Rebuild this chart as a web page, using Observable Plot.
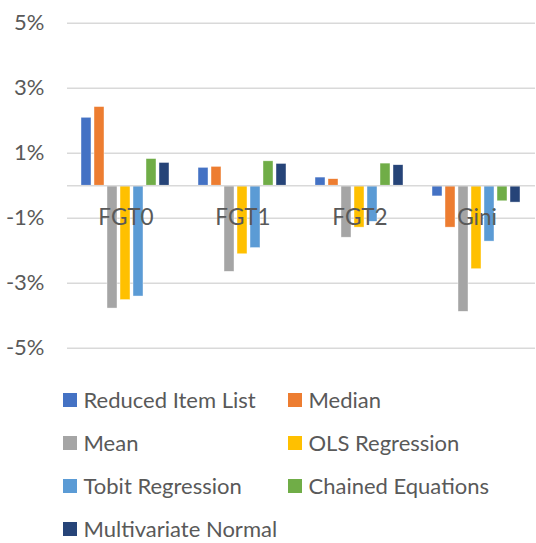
<!DOCTYPE html>
<html>
<head>
<meta charset="utf-8">
<script src="https://cdn.jsdelivr.net/npm/d3@7"></script>
<script src="https://cdn.jsdelivr.net/npm/@observablehq/plot@0.6"></script>
<style>
  html, body { margin: 0; padding: 0; background: #fff; }
  #wrap { position: relative; width: 536px; height: 543px; font-family: Lato, "Noto Sans", sans-serif; color: #595959; }
  #legend { position: absolute; left: 63px; top: 390px; display: grid; grid-template-columns: 225px 225px; grid-auto-rows: 20px; row-gap: 23px; }
  .item { display: flex; align-items: center; font-size: 22px; line-height: 20px; height: 20px; white-space: nowrap; }
  .sw { width: 14px; height: 14px; margin-right: 6.5px; flex: none; }
</style>
</head>
<body>
<div id="wrap"><div id="chart"></div><div id="legend"></div></div>
<script>
const categories = ["FGT0", "FGT1", "FGT2", "Gini"];
const series = ["Reduced Item List", "Median", "Mean", "OLS Regression", "Tobit Regression", "Chained Equations", "Multivariate Normal"];
const colors = ["#4472C4", "#ED7D31", "#A5A5A5", "#FFC000", "#5B9BD5", "#70AD47", "#264478"];
const reducedItemList = [2.09, 0.55, 0.25, -0.33];
const median = [2.42, 0.58, 0.20, -1.29];
const mean = [-3.78, -2.65, -1.60, -3.88];
const olsRegression = [-3.52, -2.11, -1.29, -2.57];
const tobitRegression = [-3.41, -1.92, -1.11, -1.72];
const chainedEquations = [0.82, 0.75, 0.68, -0.48];
const multivariateNormal = [0.70, 0.67, 0.63, -0.52];
const yTicks = [-5, -3, -1, 1, 3, 5];

const seriesValues = [reducedItemList, median, mean, olsRegression, tobitRegression, chainedEquations, multivariateNormal];
const data = [];
categories.forEach((c, i) => series.forEach((s, j) => data.push({cat: c, series: s, value: seriesValues[j][i]})));

const chart = Plot.plot({
  width: 536,
  height: 370,
  marginLeft: 66,
  marginRight: 0,
  marginTop: 20,
  marginBottom: 20,
  style: {fontFamily: "Lato, 'Noto Sans', sans-serif", fontSize: "22px", color: "#595959", background: "transparent"},
  fx: {domain: categories, padding: 0, axis: null},
  x: {domain: series, paddingInner: 0.2, paddingOuter: 0.85, axis: null},
  y: {domain: [-5, 5], range: [347.7, 22.7], axis: null},
  color: {domain: series, range: colors},
  marks: [
    Plot.ruleY(yTicks, {stroke: "#D9D9D9", strokeWidth: 1.5}),
    Plot.barY(data, {fx: "cat", x: "series", y: "value", fill: "series", stroke: "#ffffff", strokeWidth: 0.6, strokeOpacity: 0.7}),
    Plot.ruleY([0], {stroke: "#D9D9D9", strokeWidth: 1.5}),
    Plot.text(categories, {fx: d => d, y: d => 0, text: d => d, dy: 32, fontSize: 22.5, fill: "#595959"}),
    Plot.axisY(yTicks, {tickFormat: d => d + "%", tickSize: 0, tickPadding: 23, label: null, fontSize: 22})
  ]
});
document.getElementById("chart").appendChild(chart);

const legend = document.getElementById("legend");
series.forEach((s, i) => {
  const it = document.createElement("div");
  it.className = "item";
  const sw = document.createElement("span");
  sw.className = "sw";
  sw.style.background = colors[i];
  it.appendChild(sw);
  it.appendChild(document.createTextNode(s));
  legend.appendChild(it);
});
</script>
</body>
</html>
